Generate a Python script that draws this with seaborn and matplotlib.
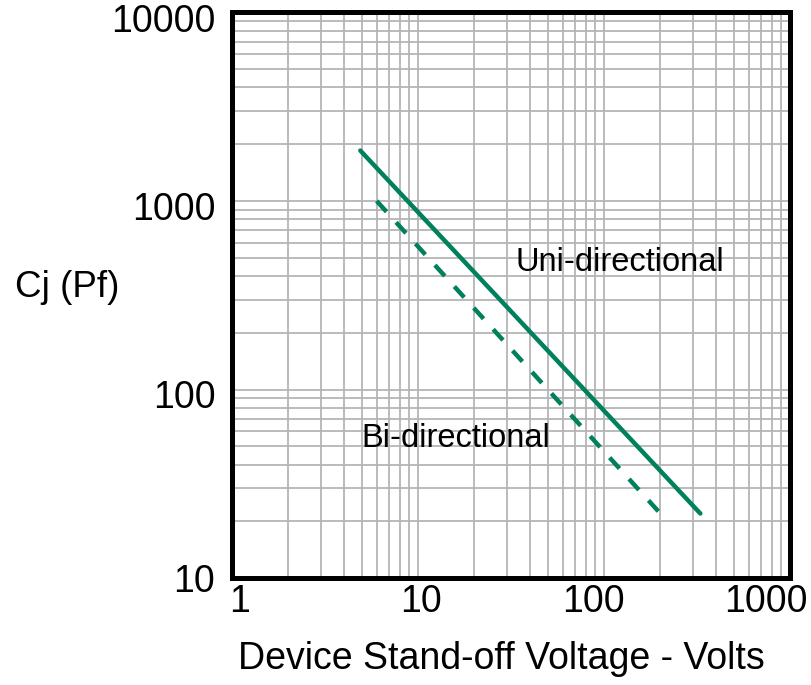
import numpy as np
import pandas as pd
import matplotlib
matplotlib.use('Agg')
import matplotlib.pyplot as plt
import matplotlib.ticker as mtick
from matplotlib.transforms import ScaledTranslation
import seaborn as sns

# Junction capacitance vs stand-off voltage
uni_volts = [4.9, 330]
uni_cap = [1850, 22]
bi_volts = [6.0, 210]
bi_cap = [1000, 21.0]

x_ticks = [1, 10, 100, 1000]
y_ticks = [10, 100, 1000, 10000]

green = '#00805c'
grid_grey = '#b5b5b5'

sns.set_style('white')
plt.rcParams['font.family'] = ['Liberation Sans', 'DejaVu Sans']
plt.rcParams['text.color'] = 'black'
plt.rcParams['axes.labelcolor'] = 'black'

fig = plt.figure(figsize=(8.11, 6.85), dpi=100)
ax = fig.add_axes([0.286, 0.156, 0.688, 0.826])

df_uni = pd.DataFrame({'volts': uni_volts, 'cap': uni_cap})
df_bi = pd.DataFrame({'volts': bi_volts, 'cap': bi_cap})

sns.lineplot(data=df_uni, x='volts', y='cap', ax=ax, color=green, lw=3.2)
sns.lineplot(data=df_bi, x='volts', y='cap', ax=ax, color=green, lw=3.2,
             dashes=False, linestyle=(0, (3.3, 3.2)))

ax.set_xscale('log')
ax.set_yscale('log')
ax.set_xlim(1, 1000)
ax.set_ylim(10, 10000)

ax.xaxis.set_major_locator(mtick.FixedLocator(x_ticks))
ax.yaxis.set_major_locator(mtick.FixedLocator(y_ticks))
ax.xaxis.set_major_formatter(mtick.FixedFormatter([str(t) for t in x_ticks]))
ax.yaxis.set_major_formatter(mtick.FixedFormatter([str(t) for t in y_ticks]))
ax.xaxis.set_minor_locator(mtick.LogLocator(base=10, subs=np.arange(2, 10)))
ax.yaxis.set_minor_locator(mtick.LogLocator(base=10, subs=np.arange(2, 10)))
ax.xaxis.set_minor_formatter(mtick.NullFormatter())
ax.yaxis.set_minor_formatter(mtick.NullFormatter())

ax.grid(True, which='both', color=grid_grey, lw=1.3)
ax.set_axisbelow(True)
ax.tick_params(which='both', length=0, labelsize=27, colors='black')
ax.tick_params(axis='x', pad=4)
ax.tick_params(axis='y', pad=12)

for s in ax.spines.values():
    s.set_color('black')
    s.set_linewidth(3.6)

# nudge tick labels the way the original scan has them
fig.canvas.draw()
x_shift = [8, 3, -10, -24]
for lab, dx in zip(ax.get_xticklabels(), x_shift):
    lab.set_transform(lab.get_transform() + ScaledTranslation(dx / 100, 0, fig.dpi_scale_trans))
y_shift = [0, -4, -5, -6]
for lab, dy in zip(ax.get_yticklabels(), y_shift):
    lab.set_transform(lab.get_transform() + ScaledTranslation(0, dy / 100, fig.dpi_scale_trans))

ax.text(121, 471, 'Uni-directional', fontsize=23.5, ha='center', va='center')
ax.text(16, 55, 'Bi-directional', fontsize=23.5, ha='center', va='center')

ax.set_xlabel('Device Stand-off Voltage - Volts', fontsize=27)
ax.xaxis.set_label_coords(0.483, -0.143)
ax.xaxis.label.set_va('center')
ax.set_ylabel('Cj (Pf)', fontsize=26.5, rotation=0, ha='center', va='center')
ax.yaxis.set_label_coords(-0.296, 0.513)

fig.savefig('out.png', dpi=100)
